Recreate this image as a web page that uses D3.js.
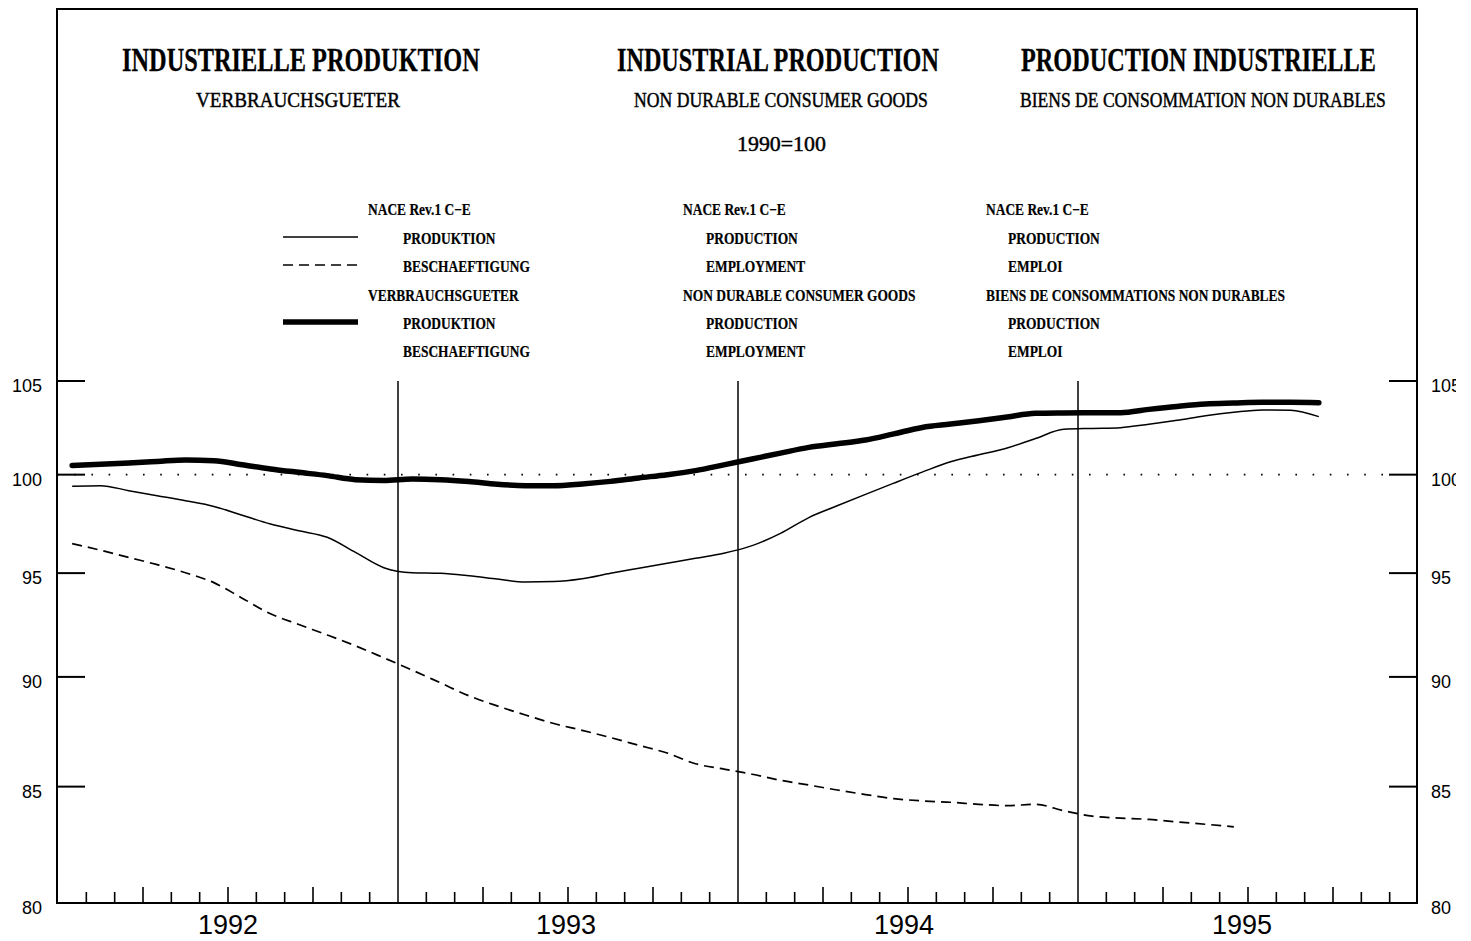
<!DOCTYPE html>
<html>
<head>
<meta charset="utf-8">
<script src="https://cdn.jsdelivr.net/npm/d3@7"></script>
<style>
  html, body { margin: 0; padding: 0; background: #fff; }
  svg { display: block; }
</style>
</head>
<body>
<svg id="chart" width="1471" height="941"></svg>
<script>
// ---------------- DATA ----------------
const months = [
  "1992-01","1992-02","1992-03","1992-04","1992-05","1992-06","1992-07","1992-08","1992-09","1992-10","1992-11","1992-12",
  "1993-01","1993-02","1993-03","1993-04","1993-05","1993-06","1993-07","1993-08","1993-09","1993-10","1993-11","1993-12",
  "1994-01","1994-02","1994-03","1994-04","1994-05","1994-06","1994-07","1994-08","1994-09","1994-10","1994-11","1994-12",
  "1995-01","1995-02","1995-03","1995-04","1995-05","1995-06","1995-07","1995-08","1995-09"
];
const years = ["1992", "1993", "1994", "1995"];
const yTicks = [80, 85, 90, 95, 100, 105];

// NACE Rev.1 C-E production (thin solid)
const productionNace = [
  99.40, 99.43, 99.17, 98.91, 98.65, 98.36, 97.91, 97.46, 97.12, 96.79, 96.03, 95.27,
  95.02, 94.99, 94.87, 94.71, 94.56, 94.58, 94.72, 94.99, 95.24, 95.49, 95.74, 95.99,
  96.37, 96.99, 97.79, 98.39, 98.98, 99.56, 100.13, 100.67, 101.04, 101.40, 101.90, 102.39,
  102.44, 102.48, 102.66, 102.87, 103.11, 103.30, 103.43, 103.41, 103.07
];
// NACE Rev.1 C-E employment (dashed)
const employmentNace = [
  96.47, 96.14, 95.78, 95.42, 95.02, 94.53, 93.77, 93.01, 92.49, 91.99, 91.47, 90.90,
  90.32, 89.72, 89.12, 88.65, 88.23, 87.84, 87.53, 87.20, 86.85, 86.50, 86.02, 85.78,
  85.55, 85.28, 85.07, 84.85, 84.65, 84.47, 84.37, 84.31, 84.22, 84.16, 84.22, 83.94,
  83.70, 83.62, 83.56, 83.45, 83.35, 83.24
];
// Non durable consumer goods production (thick)
const productionConsumer = [
  100.48, 100.54, 100.61, 100.69, 100.77, 100.73, 100.52, 100.30, 100.12, 99.95, 99.74, 99.70,
  99.78, 99.74, 99.64, 99.50, 99.43, 99.43, 99.52, 99.65, 99.83, 100.00, 100.21, 100.51,
  100.82, 101.13, 101.43, 101.62, 101.82, 102.15, 102.49, 102.67, 102.85, 103.05, 103.25, 103.27,
  103.28, 103.28, 103.46, 103.62, 103.75, 103.80, 103.84, 103.84, 103.82
];

const titles = ["INDUSTRIELLE PRODUKTION", "INDUSTRIAL PRODUCTION", "PRODUCTION INDUSTRIELLE"];
const subtitles = ["VERBRAUCHSGUETER", "NON DURABLE CONSUMER GOODS", "BIENS DE CONSOMMATION NON DURABLES"];
const baseLabel = "1990=100";
const legendDe = ["NACE Rev.1 C\u2212E", "PRODUKTION", "BESCHAEFTIGUNG", "VERBRAUCHSGUETER", "PRODUKTION", "BESCHAEFTIGUNG"];
const legendEn = ["NACE Rev.1 C\u2212E", "PRODUCTION", "EMPLOYMENT", "NON DURABLE CONSUMER GOODS", "PRODUCTION", "EMPLOYMENT"];
const legendFr = ["NACE Rev.1 C\u2212E", "PRODUCTION", "EMPLOI", "BIENS DE CONSOMMATIONS NON DURABLES", "PRODUCTION", "EMPLOI"];

// ---------------- LAYOUT ----------------
const svg = d3.select("#chart");
const L = 57, R = 1417, T = 9, B = 903;
const nMonths = 48;

const x = d3.scaleLinear().domain([0, nMonths]).range([L + 1, R + 1]);
const y = d3.scaleLog().domain([80, 105]).range([B, 381]);

const serif = "'Liberation Serif', 'Times New Roman', serif";
const sans = "'Liberation Sans', Arial, sans-serif";

function txt(str, px, py, opts) {
  const t = svg.append("text")
    .attr("font-family", opts.family || serif)
    .attr("font-size", opts.size)
    .attr("font-weight", opts.weight || "normal")
    .attr("fill", "#000")
    .attr("text-anchor", opts.anchor || "start")
    .text(str);
  if (opts.stroke) t.attr("stroke", "#000").attr("stroke-width", opts.stroke);
  let sx = opts.sx || 1;
  if (opts.width) {
    const w = t.node().getComputedTextLength();
    sx = opts.width / w;
  }
  t.attr("transform", `translate(${px},${py}) scale(${sx},1)`);
  return t;
}

// ---------------- FRAME ----------------
svg.append("rect")
  .attr("x", L).attr("y", T).attr("width", R - L).attr("height", B - T)
  .attr("fill", "none").attr("stroke", "#000").attr("stroke-width", 2);

// ---------------- TITLES ----------------
const titleX = [122, 617, 1021], titleW = [358, 322, 355];
titles.forEach((s, i) => txt(s, titleX[i], 71, { size: 34, weight: "bold", width: titleW[i], stroke: 0.3 }));
const subX = [196, 634, 1020], subW = [204, 294, 366];
subtitles.forEach((s, i) => txt(s, subX[i], 107, { size: 21, weight: "normal", width: subW[i], stroke: 0.45 }));
txt(baseLabel, 737, 151, { size: 21, weight: "normal", width: 89, stroke: 0.45 });

// ---------------- LEGEND ----------------
const rowY = [215, 244, 272, 301, 329, 357];
const colHead = [368, 683, 986], colItem = [403, 706, 1008];
[legendDe, legendEn, legendFr].forEach((col, c) => {
  col.forEach((s, r) => {
    const isHead = (r === 0 || r === 3);
    txt(s, isHead ? colHead[c] : colItem[c], rowY[r], { size: 16, weight: "bold", sx: 0.84, stroke: 0.2 });
  });
});
svg.append("line").attr("x1", 283).attr("x2", 358).attr("y1", 237).attr("y2", 237)
  .attr("stroke", "#000").attr("stroke-width", 1.5);
svg.append("line").attr("x1", 283).attr("x2", 358).attr("y1", 265).attr("y2", 265)
  .attr("stroke", "#000").attr("stroke-width", 1.6).attr("stroke-dasharray", "10,6");
svg.append("line").attr("x1", 283).attr("x2", 358).attr("y1", 322).attr("y2", 322)
  .attr("stroke", "#000").attr("stroke-width", 5.5);

// ---------------- AXES ----------------
const yt = yTicks.filter(v => v > 80);
yt.forEach(v => {
  svg.append("line").attr("x1", L).attr("x2", L + 28).attr("y1", y(v)).attr("y2", y(v))
    .attr("stroke", "#000").attr("stroke-width", 2);
  svg.append("line").attr("x1", R - 28).attr("x2", R).attr("y1", y(v)).attr("y2", y(v))
    .attr("stroke", "#000").attr("stroke-width", 2);
});
const defs = svg.append("defs");
defs.append("clipPath").attr("id", "rclip").append("rect")
  .attr("x", 0).attr("y", 0).attr("width", 1456).attr("height", 941);
yTicks.forEach(v => {
  txt(String(v), 42, y(v) + 11, { size: 18, family: sans, anchor: "end" });
  svg.append("g").attr("clip-path", "url(#rclip)").append("text")
    .attr("x", 1431).attr("y", y(v) + 11)
    .attr("font-family", sans).attr("font-size", 18).attr("fill", "#000")
    .text(String(v));
});

// month ticks along bottom
d3.range(1, nMonths).forEach(m => {
  if (m % 12 === 0) return;
  const h = (m % 3 === 0) ? 16 : 11;
  svg.append("line").attr("x1", x(m)).attr("x2", x(m)).attr("y1", B).attr("y2", B - h)
    .attr("stroke", "#000").attr("stroke-width", 1.6);
});
// year boundary lines
[12, 24, 36].forEach(m => {
  svg.append("line").attr("x1", x(m)).attr("x2", x(m)).attr("y1", y(105)).attr("y2", B)
    .attr("stroke", "#000").attr("stroke-width", 1.5);
});
// year labels
years.forEach((s, i) => {
  txt(s, x(i * 12 + 6) - 2 * i, 934, { size: 27, family: sans, anchor: "middle" });
});

// reference line at 100 (dotted)
svg.append("line").attr("x1", L).attr("x2", R - 28).attr("y1", y(100)).attr("y2", y(100))
  .attr("stroke", "#000").attr("stroke-width", 1.6).attr("stroke-dasharray", "1.6,15.6");

// ---------------- SERIES ----------------
const line = d3.line()
  .x((d, i) => x(i + 0.5))
  .y(d => y(d))
  .curve(d3.curveMonotoneX);

svg.append("path").datum(productionNace).attr("d", line)
  .attr("fill", "none").attr("stroke", "#000").attr("stroke-width", 1.5).attr("stroke-linejoin", "round");
svg.append("path").datum(employmentNace).attr("d", line)
  .attr("fill", "none").attr("stroke", "#000").attr("stroke-width", 1.7)
  .attr("stroke-dasharray", "10,6");
svg.append("path").datum(productionConsumer).attr("d", line)
  .attr("fill", "none").attr("stroke", "#000").attr("stroke-width", 5.5)
  .attr("stroke-linejoin", "round").attr("stroke-linecap", "round");
</script>
</body>
</html>
